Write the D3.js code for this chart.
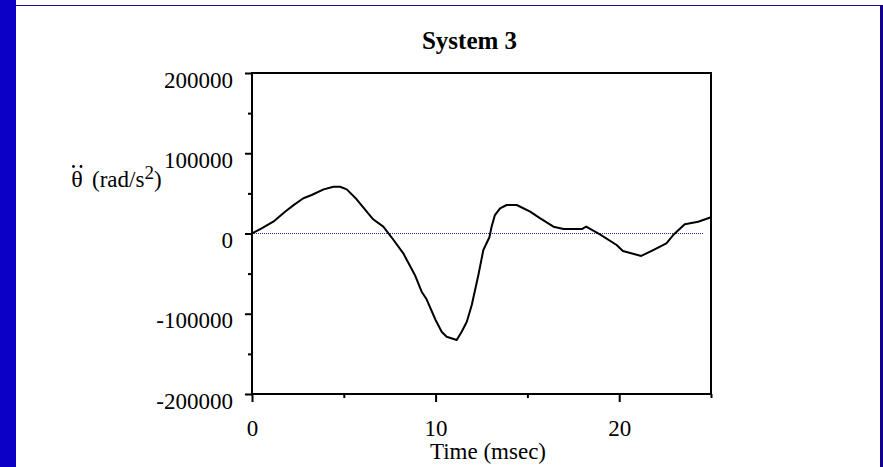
<!DOCTYPE html>
<html>
<head>
<meta charset="utf-8">
<script src="https://cdn.jsdelivr.net/npm/d3@7"></script>
<style>
  body { margin: 0; background: #fff; }
  svg { display: block; }
</style>
</head>
<body>
<div id="chart"></div>
<script>
// time in msec
var timeMs = [0, 0.5, 1.16, 1.8, 2.3, 2.8, 3.25, 3.9, 4.44, 4.8, 5.16, 5.7, 6.25, 6.6, 7.15,
  7.6, 8.24, 8.87, 9.24, 9.51, 10.0, 10.33, 10.6, 11.15, 11.42, 11.7, 11.97, 12.33, 12.6,
  12.93, 13.05, 13.23, 13.51, 13.87, 14.42, 15.15, 15.7, 16.42, 16.97, 17.97, 18.2, 18.95,
  19.86, 20.2, 21.2, 21.85, 22.57, 22.94, 23.57, 24.3, 25];
// angular acceleration (rad/s^2)
var accel = [0, 6000, 14700, 27200, 36000, 43900, 48000, 55000, 58300, 58300, 55000, 42600,
  27200, 17700, 8500, -4700, -24700, -51700, -72500, -82000, -107800, -122400, -128600,
  -132700, -122400, -110000, -89100, -51700, -20600, -4700, 8500, 23000, 31400, 35500,
  35500, 27200, 18900, 8500, 5600, 5600, 8500, -1000, -14300, -21800, -28000, -20600,
  -12200, -1900, 11500, 14700, 20200];

var yMajor = [-200000, -100000, 0, 100000, 200000];
var yMinor = [-150000, -50000, 50000, 150000];
var xMajor = [0, 10, 20];
var xMinor = [5, 15, 25];

var chartTitle = "System 3";
var xTitle = "Time (msec)";

var width = 883;
var height = 467;
var serif = "'Liberation Serif', 'Times New Roman', serif";

var svg = d3.select("#chart")
  .append("svg")
  .attr("width", width)
  .attr("height", height);

// slide frame
svg.append("rect").attr("x", 0).attr("y", 0).attr("width", width).attr("height", height).attr("fill", "#fff");
svg.append("rect").attr("x", 0).attr("y", 0).attr("width", 16).attr("height", height).attr("fill", "#0d00c6");
svg.append("rect").attr("x", 16).attr("y", 5).attr("width", 864).attr("height", 1).attr("fill", "#1a0ca2");
svg.append("rect").attr("x", 880).attr("y", 5).attr("width", 3).attr("height", height - 5).attr("fill", "#12008e");

var x = d3.scaleLinear().domain([0, 25]).range([252, 711]);
var y = d3.scaleLinear().domain([-200000, 200000]).range([394, 73]);

// zero line
svg.append("line")
  .attr("x1", x(0)).attr("x2", x(24.6))
  .attr("y1", y(0)).attr("y2", y(0))
  .attr("stroke", "#2a2a9a")
  .attr("stroke-width", 1)
  .attr("stroke-dasharray", "1,1");

// minor ticks first, then major ticks with labels
svg.append("g")
  .attr("transform", "translate(" + x(0) + ",0)")
  .call(d3.axisLeft(y).tickValues(yMinor).tickSize(4).tickFormat(""))
  .call(g => g.select(".domain").remove())
  .call(g => g.selectAll("line").attr("stroke", "#000").attr("stroke-width", 2));

svg.append("g")
  .attr("transform", "translate(" + x(0) + ",0)")
  .call(d3.axisLeft(y).tickValues(yMajor).tickSize(7).tickPadding(12).tickFormat(d => String(d)))
  .call(g => g.select(".domain").remove())
  .call(g => g.selectAll("line").attr("stroke", "#000").attr("stroke-width", 2))
  .call(g => g.selectAll("text")
    .attr("dy", 14)
    .style("font-family", serif)
    .style("font-size", "23px")
    .attr("fill", "#000"));

svg.append("g")
  .attr("transform", "translate(0," + y(-200000) + ")")
  .call(d3.axisBottom(x).tickValues(xMinor).tickSize(4).tickFormat(""))
  .call(g => g.select(".domain").remove())
  .call(g => g.selectAll("line").attr("stroke", "#000").attr("stroke-width", 2));

svg.append("g")
  .attr("transform", "translate(0," + y(-200000) + ")")
  .call(d3.axisBottom(x).tickValues(xMajor).tickSize(8).tickFormat(d => String(d)))
  .call(g => g.select(".domain").remove())
  .call(g => g.selectAll("line").attr("stroke", "#000").attr("stroke-width", 2))
  .call(g => g.selectAll("text")
    .attr("y", 42)
    .attr("dy", 0)
    .style("font-family", serif)
    .style("font-size", "23px")
    .attr("fill", "#000"));

// plot box
svg.append("rect")
  .attr("x", x(0)).attr("y", y(200000))
  .attr("width", x(25) - x(0)).attr("height", y(-200000) - y(200000))
  .attr("fill", "none")
  .attr("stroke", "#000")
  .attr("stroke-width", 2);

var points = timeMs.map((t, i) => [t, accel[i]]);
var line = d3.line()
  .x(d => x(d[0]))
  .y(d => y(d[1]));

svg.append("path")
  .datum(points)
  .attr("d", line)
  .attr("fill", "none")
  .attr("stroke", "#000")
  .attr("stroke-width", 2)
  .attr("stroke-linejoin", "round");

// titles
svg.append("text")
  .attr("x", 469.5).attr("y", 49)
  .attr("text-anchor", "middle")
  .style("font-family", serif)
  .style("font-size", "25px")
  .style("font-weight", "bold")
  .text(chartTitle);

svg.append("text")
  .attr("x", 488).attr("y", 459)
  .attr("text-anchor", "middle")
  .style("font-family", serif)
  .style("font-size", "23px")
  .text(xTitle);

// y label: theta with two dots above (drawn as small circles), then (rad/s^2)
svg.append("text")
  .attr("x", 77).attr("y", 187)
  .attr("text-anchor", "middle")
  .style("font-family", serif)
  .style("font-size", "24px")
  .text("\u03B8");
svg.selectAll(".ddot")
  .data([73.5, 81])
  .enter().append("circle")
  .attr("class", "ddot")
  .attr("cx", d => d)
  .attr("cy", 166.5)
  .attr("r", 1.4)
  .attr("fill", "#000");

var yl = svg.append("text")
  .attr("x", 92).attr("y", 187)
  .style("font-family", serif)
  .style("font-size", "23px");
yl.append("tspan").text("(rad/s");
yl.append("tspan").attr("dy", -8).style("font-size", "19px").text("2");
yl.append("tspan").attr("dy", 8).text(")");
</script>
</body>
</html>
